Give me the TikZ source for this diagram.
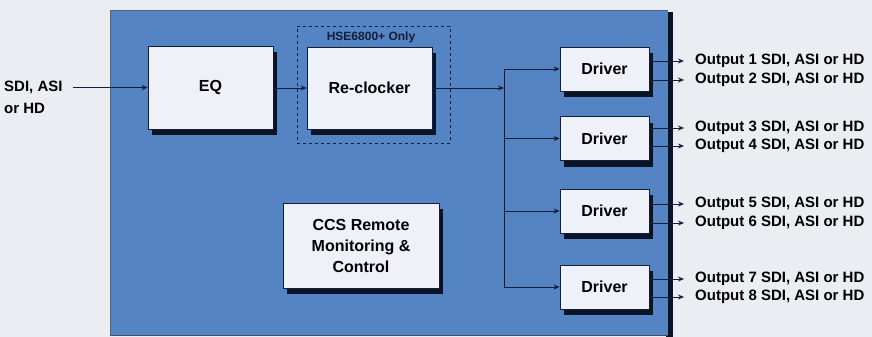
\documentclass[tikz,border=0pt]{standalone}
\usepackage{fontspec}
\setmainfont{Liberation Sans}
\usetikzlibrary{arrows.meta,shadows}
\definecolor{bgc}{RGB}{234,237,242}
\definecolor{bluec}{RGB}{84,132,196}
\definecolor{navy}{RGB}{18,30,58}
\definecolor{boxc}{RGB}{238,241,247}
\definecolor{shc}{RGB}{10,20,38}
\begin{document}
\begin{tikzpicture}[x=1pt,y=-1pt,
  blk/.style={draw=navy,line width=0.8pt,fill=boxc,inner sep=0pt,
    font=\bfseries\fontsize{16}{20}\selectfont,align=center,
    drop shadow={shadow xshift=4pt,shadow yshift=-6pt,fill=shc,opacity=1}},
  drv/.style={blk,minimum width=89pt,minimum height=44pt},
  arr/.style={draw=navy,line width=0.8pt,-{Stealth[length=6pt,width=5pt]}},
  ln/.style={draw=navy,line width=0.8pt},
  lbl/.style={font=\bfseries\fontsize{15}{19}\selectfont,inner sep=0pt,anchor=west,text=black}]
\useasboundingbox (0,0) rectangle (872,337);
\fill[bgc] (0,0) rectangle (872,337);
% main panel
\fill[shc] (666,12) rectangle (673,337);
\fill[bluec] (110,10) rectangle (668,335);
\draw[navy!70,line width=0.6pt] (110,335) -- (110,10) -- (668,10);
\draw[navy!80,line width=0.8pt] (110,335) -- (668,335);
% dashed region
\node[draw=navy,dashed,line width=0.8pt,minimum width=153pt,minimum height=117pt,inner sep=0pt] (dash) at (373.5,84.5) {};
\node[font=\bfseries\fontsize{12}{14}\selectfont,text=navy,inner sep=0pt] (hse) at (371,37) {HSE6800+ Only};
% blocks
\node[blk,minimum width=125pt,minimum height=83pt] (eq) at (210.5,87.5) {EQ};
\node[blk,minimum width=125pt,minimum height=82pt] (rc) at (369.5,88) {Re-clocker};
\node[blk,minimum width=156pt,minimum height=85pt] (ccs) at (361,245.5) {CCS Remote\\[1pt]Monitoring \&\\[1pt]Control};
\node[drv] (d1) at (604.5,69) {Driver};
\node[drv] (d2) at (604.5,138.5) {Driver};
\node[drv] (d3) at (604.5,211) {Driver};
\node[drv] (d4) at (604.5,287) {Driver};
% input
\node[lbl,align=left,anchor=north west] (in) at (4,81) {SDI, ASI\\[3pt]or HD};
\coordinate (is) at (73,87.5);
\draw[arr] (is) -- (eq.west |- is);
\draw[arr] (eq.east |- rc.west) -- (rc.west);
% splitter
\coordinate (j) at (504,88);
\draw[arr] (rc.east) -- (j);
\draw[ln] (j |- d1.west) -- (j |- d4.west);
\foreach \d in {d1,d2,d3,d4}{\draw[arr] (j |- \d.west) -- (\d.west);}
% outputs
\foreach \d/\ya/\yb/\na/\nb in {d1/61/80/1/2,d2/128/146/3/4,d3/204/223/5/6,d4/279/297/7/8}{
  \coordinate (ea\na) at (684,\ya);
  \coordinate (ea\nb) at (684,\yb);
  \draw[arr] (\d.east |- ea\na) -- (ea\na);
  \draw[arr] (\d.east |- ea\nb) -- (ea\nb);
  \node[lbl] (o\na) at (695,\ya) {Output \na\ SDI, ASI or HD};
  \node[lbl] (o\nb) at (695,\yb) {Output \nb\ SDI, ASI or HD};
}
\end{tikzpicture}
\end{document}
